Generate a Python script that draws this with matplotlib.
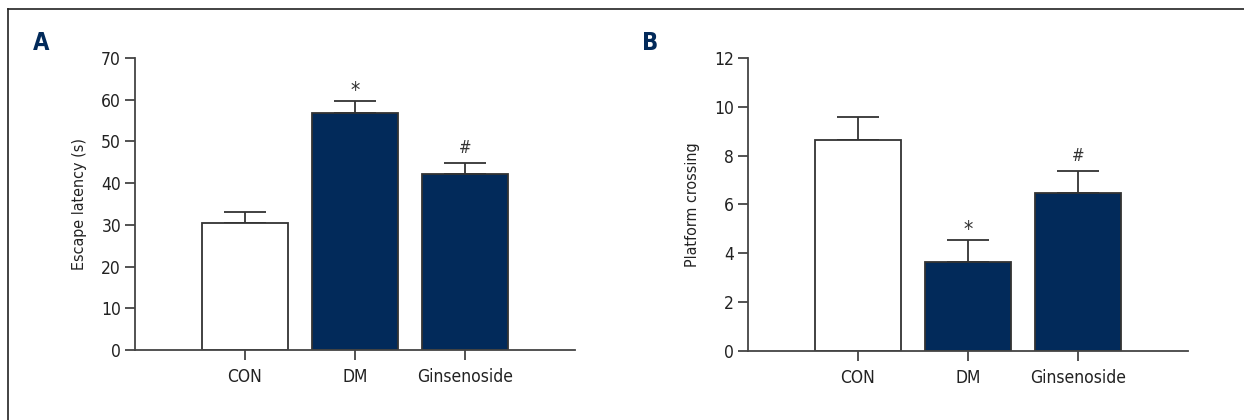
import numpy as np
import matplotlib.pyplot as plt

groups = ["CON", "DM", "Ginsenoside"]
latency = [30.5, 56.7, 42.2]
latency_err = [2.7, 3.0, 2.7]
crossing = [8.65, 3.63, 6.48]
crossing_err = [0.95, 0.9, 0.89]
marks = ["", "*", "#"]

navy = "#022a5a"
edge = "#333333"
plt.rcParams['font.family'] = ['DejaVu Sans']
plt.rcParams['font.stretch'] = 'condensed'

fig = plt.figure(figsize=(12.44, 4.2), dpi=100)

# frame line at top and left
fig.add_artist(plt.Line2D([8/1244, 8/1244], [0, 1 - 9/420], color="#222222", lw=1.2))
fig.add_artist(plt.Line2D([8/1244, 1], [1 - 9/420, 1 - 9/420], color="#222222", lw=1.2))


def panel(rect, vals, errs, ymax, step, ylabel, letter, letter_x):
    ax = fig.add_axes(rect)
    x = np.arange(len(groups))
    colors = ["white", navy, navy]
    ax.bar(x, vals, width=0.78, color=colors, edgecolor=edge, linewidth=1.3, zorder=2)
    ax.errorbar(x, vals, yerr=[np.zeros(len(vals)), errs], fmt="none",
                ecolor=edge, elinewidth=1.3, capsize=15, capthick=1.3, zorder=1)
    for xi, v, e, m in zip(x, vals, errs, marks):
        if m:
            ax.annotate(m, (xi, v + e), xytext=(0, 0 if m == "*" else 4),
                        textcoords="offset points", ha="center", va="bottom",
                        fontsize=15 if m == "*" else 12, color="#333333")
    ax.set_xlim(-1, 3)
    ax.set_ylim(0, ymax)
    ax.set_yticks(np.arange(0, ymax + step / 2, step))
    ax.set_xticks(x)
    ax.set_xticklabels(groups)
    for s in ["top", "right"]:
        ax.spines[s].set_visible(False)
    for s in ["left", "bottom"]:
        ax.spines[s].set_color("#444444")
        ax.spines[s].set_linewidth(1.3)
    ax.tick_params(axis="both", length=7, width=1.3, color="#444444",
                   labelsize=12.5, labelcolor="#222222", pad=3)
    ax.tick_params(axis="x", pad=6)
    ax.set_ylabel(ylabel, fontsize=11.5, color="#222222", labelpad=10)
    fig.text(letter_x, 1 - 43/420, letter, fontsize=17, fontweight="bold",
             color=navy, va="center", ha="left")
    return ax


panel([135/1244, 70/420, 440/1244, 292/420], latency, latency_err, 70, 10,
      "Escape latency (s)", "A", 33/1244)
panel([747.7/1244, 69.5/420, 440/1244, 292.4/420], crossing, crossing_err, 12, 2,
      "Platform crossing", "B", 642/1244)

fig.savefig("out.png", dpi=100)
